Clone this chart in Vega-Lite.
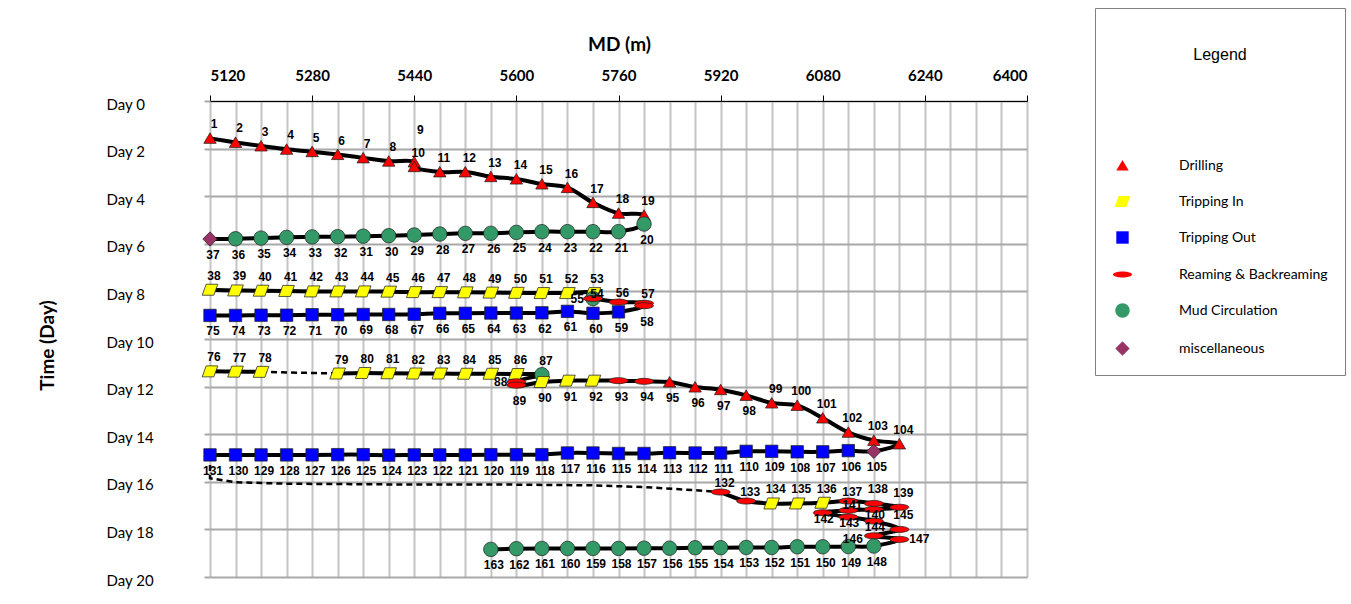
{
  "$schema": "https://vega.github.io/schema/vega-lite/v6.json",
  "width": 817,
  "height": 476,
  "autosize": {"type": "none"},
  "padding": {"left": 210, "top": 101, "right": 324, "bottom": 27},
  "background": "white",
  "config": {"view": {"stroke": null}, "text": {"font": "Liberation Sans", "fontSize": 12, "fontWeight": "bold", "color": "#000000", "baseline": "middle"}},
  "datasets": {
    "ops": [
      {"id":1,"md":5120,"day":1.57,"type":"Drilling","run":1},
      {"id":2,"md":5160,"day":1.74,"type":"Drilling","run":1},
      {"id":3,"md":5200,"day":1.89,"type":"Drilling","run":1},
      {"id":4,"md":5240,"day":2.03,"type":"Drilling","run":1},
      {"id":5,"md":5280,"day":2.13,"type":"Drilling","run":1},
      {"id":6,"md":5320,"day":2.25,"type":"Drilling","run":1},
      {"id":7,"md":5360,"day":2.39,"type":"Drilling","run":1},
      {"id":8,"md":5400,"day":2.53,"type":"Drilling","run":1},
      {"id":9,"md":5440,"day":2.56,"type":"Drilling","run":1},
      {"id":10,"md":5440,"day":2.76,"type":"Drilling","run":1},
      {"id":11,"md":5480,"day":2.98,"type":"Drilling","run":1},
      {"id":12,"md":5520,"day":2.98,"type":"Drilling","run":1},
      {"id":13,"md":5560,"day":3.18,"type":"Drilling","run":1},
      {"id":14,"md":5600,"day":3.28,"type":"Drilling","run":1},
      {"id":15,"md":5640,"day":3.49,"type":"Drilling","run":1},
      {"id":16,"md":5680,"day":3.64,"type":"Drilling","run":1},
      {"id":17,"md":5720,"day":4.27,"type":"Drilling","run":1},
      {"id":18,"md":5760,"day":4.72,"type":"Drilling","run":1},
      {"id":19,"md":5800,"day":4.80,"type":"Drilling","run":1},
      {"id":20,"md":5800,"day":5.17,"type":"Mud Circulation","run":1},
      {"id":21,"md":5760,"day":5.49,"type":"Mud Circulation","run":1},
      {"id":22,"md":5720,"day":5.49,"type":"Mud Circulation","run":1},
      {"id":23,"md":5680,"day":5.49,"type":"Mud Circulation","run":1},
      {"id":24,"md":5640,"day":5.49,"type":"Mud Circulation","run":1},
      {"id":25,"md":5600,"day":5.52,"type":"Mud Circulation","run":1},
      {"id":26,"md":5560,"day":5.56,"type":"Mud Circulation","run":1},
      {"id":27,"md":5520,"day":5.56,"type":"Mud Circulation","run":1},
      {"id":28,"md":5480,"day":5.59,"type":"Mud Circulation","run":1},
      {"id":29,"md":5440,"day":5.63,"type":"Mud Circulation","run":1},
      {"id":30,"md":5400,"day":5.66,"type":"Mud Circulation","run":1},
      {"id":31,"md":5360,"day":5.68,"type":"Mud Circulation","run":1},
      {"id":32,"md":5320,"day":5.70,"type":"Mud Circulation","run":1},
      {"id":33,"md":5280,"day":5.71,"type":"Mud Circulation","run":1},
      {"id":34,"md":5240,"day":5.73,"type":"Mud Circulation","run":1},
      {"id":35,"md":5200,"day":5.76,"type":"Mud Circulation","run":1},
      {"id":36,"md":5160,"day":5.79,"type":"Mud Circulation","run":1},
      {"id":37,"md":5120,"day":5.80,"type":"miscellaneous","run":1},
      {"id":38,"md":5120,"day":7.93,"type":"Tripping In","run":2},
      {"id":39,"md":5160,"day":7.96,"type":"Tripping In","run":2},
      {"id":40,"md":5200,"day":7.97,"type":"Tripping In","run":2},
      {"id":41,"md":5240,"day":7.98,"type":"Tripping In","run":2},
      {"id":42,"md":5280,"day":8.00,"type":"Tripping In","run":2},
      {"id":43,"md":5320,"day":8.00,"type":"Tripping In","run":2},
      {"id":44,"md":5360,"day":8.00,"type":"Tripping In","run":2},
      {"id":45,"md":5400,"day":8.01,"type":"Tripping In","run":2},
      {"id":46,"md":5440,"day":8.03,"type":"Tripping In","run":2},
      {"id":47,"md":5480,"day":8.03,"type":"Tripping In","run":2},
      {"id":48,"md":5520,"day":8.04,"type":"Tripping In","run":2},
      {"id":49,"md":5560,"day":8.05,"type":"Tripping In","run":2},
      {"id":50,"md":5600,"day":8.06,"type":"Tripping In","run":2},
      {"id":51,"md":5640,"day":8.07,"type":"Tripping In","run":2},
      {"id":52,"md":5680,"day":8.07,"type":"Tripping In","run":2},
      {"id":53,"md":5720,"day":8.07,"type":"Tripping In","run":2},
      {"id":54,"md":5720,"day":8.30,"type":"Mud Circulation","run":2},
      {"id":55,"md":5720,"day":8.30,"type":"Reaming & Backreaming","run":2},
      {"id":56,"md":5760,"day":8.45,"type":"Reaming & Backreaming","run":2},
      {"id":57,"md":5800,"day":8.50,"type":"Reaming & Backreaming","run":2},
      {"id":58,"md":5800,"day":8.60,"type":"Reaming & Backreaming","run":2},
      {"id":59,"md":5760,"day":8.86,"type":"Tripping Out","run":2},
      {"id":60,"md":5720,"day":8.92,"type":"Tripping Out","run":2},
      {"id":61,"md":5680,"day":8.84,"type":"Tripping Out","run":2},
      {"id":62,"md":5640,"day":8.90,"type":"Tripping Out","run":2},
      {"id":63,"md":5600,"day":8.91,"type":"Tripping Out","run":2},
      {"id":64,"md":5560,"day":8.91,"type":"Tripping Out","run":2},
      {"id":65,"md":5520,"day":8.92,"type":"Tripping Out","run":2},
      {"id":66,"md":5480,"day":8.92,"type":"Tripping Out","run":2},
      {"id":67,"md":5440,"day":8.96,"type":"Tripping Out","run":2},
      {"id":68,"md":5400,"day":8.97,"type":"Tripping Out","run":2},
      {"id":69,"md":5360,"day":8.97,"type":"Tripping Out","run":2},
      {"id":70,"md":5320,"day":8.98,"type":"Tripping Out","run":2},
      {"id":71,"md":5280,"day":8.98,"type":"Tripping Out","run":2},
      {"id":72,"md":5240,"day":9.00,"type":"Tripping Out","run":2},
      {"id":73,"md":5200,"day":9.00,"type":"Tripping Out","run":2},
      {"id":74,"md":5160,"day":9.01,"type":"Tripping Out","run":2},
      {"id":75,"md":5120,"day":9.01,"type":"Tripping Out","run":2},
      {"id":76,"md":5120,"day":11.36,"type":"Tripping In","run":3},
      {"id":77,"md":5160,"day":11.37,"type":"Tripping In","run":3},
      {"id":78,"md":5200,"day":11.38,"type":"Tripping In","run":3},
      {"id":79,"md":5320,"day":11.45,"type":"Tripping In","run":4},
      {"id":80,"md":5360,"day":11.43,"type":"Tripping In","run":4},
      {"id":81,"md":5400,"day":11.44,"type":"Tripping In","run":4},
      {"id":82,"md":5440,"day":11.45,"type":"Tripping In","run":4},
      {"id":83,"md":5480,"day":11.45,"type":"Tripping In","run":4},
      {"id":84,"md":5520,"day":11.46,"type":"Tripping In","run":4},
      {"id":85,"md":5560,"day":11.46,"type":"Tripping In","run":4},
      {"id":86,"md":5600,"day":11.47,"type":"Tripping In","run":4},
      {"id":87,"md":5640,"day":11.50,"type":"Mud Circulation","run":4},
      {"id":88,"md":5600,"day":11.80,"type":"Reaming & Backreaming","run":4},
      {"id":89,"md":5600,"day":11.94,"type":"Reaming & Backreaming","run":4},
      {"id":90,"md":5640,"day":11.81,"type":"Tripping In","run":4},
      {"id":91,"md":5680,"day":11.75,"type":"Tripping In","run":4},
      {"id":92,"md":5720,"day":11.75,"type":"Tripping In","run":4},
      {"id":93,"md":5760,"day":11.75,"type":"Reaming & Backreaming","run":4},
      {"id":94,"md":5800,"day":11.78,"type":"Reaming & Backreaming","run":4},
      {"id":95,"md":5840,"day":11.81,"type":"Drilling","run":4},
      {"id":96,"md":5880,"day":12.02,"type":"Drilling","run":4},
      {"id":97,"md":5920,"day":12.13,"type":"Drilling","run":4},
      {"id":98,"md":5960,"day":12.37,"type":"Drilling","run":4},
      {"id":99,"md":6000,"day":12.69,"type":"Drilling","run":4},
      {"id":100,"md":6040,"day":12.79,"type":"Drilling","run":4},
      {"id":101,"md":6080,"day":13.32,"type":"Drilling","run":4},
      {"id":102,"md":6120,"day":13.92,"type":"Drilling","run":4},
      {"id":103,"md":6160,"day":14.26,"type":"Drilling","run":4},
      {"id":104,"md":6200,"day":14.41,"type":"Drilling","run":4},
      {"id":105,"md":6160,"day":14.72,"type":"miscellaneous","run":4},
      {"id":106,"md":6120,"day":14.69,"type":"Tripping Out","run":4},
      {"id":107,"md":6080,"day":14.74,"type":"Tripping Out","run":4},
      {"id":108,"md":6040,"day":14.74,"type":"Tripping Out","run":4},
      {"id":109,"md":6000,"day":14.72,"type":"Tripping Out","run":4},
      {"id":110,"md":5960,"day":14.72,"type":"Tripping Out","run":4},
      {"id":111,"md":5920,"day":14.79,"type":"Tripping Out","run":4},
      {"id":112,"md":5880,"day":14.79,"type":"Tripping Out","run":4},
      {"id":113,"md":5840,"day":14.78,"type":"Tripping Out","run":4},
      {"id":114,"md":5800,"day":14.81,"type":"Tripping Out","run":4},
      {"id":115,"md":5760,"day":14.81,"type":"Tripping Out","run":4},
      {"id":116,"md":5720,"day":14.79,"type":"Tripping Out","run":4},
      {"id":117,"md":5680,"day":14.79,"type":"Tripping Out","run":4},
      {"id":118,"md":5640,"day":14.86,"type":"Tripping Out","run":4},
      {"id":119,"md":5600,"day":14.86,"type":"Tripping Out","run":4},
      {"id":120,"md":5560,"day":14.86,"type":"Tripping Out","run":4},
      {"id":121,"md":5520,"day":14.87,"type":"Tripping Out","run":4},
      {"id":122,"md":5480,"day":14.87,"type":"Tripping Out","run":4},
      {"id":123,"md":5440,"day":14.87,"type":"Tripping Out","run":4},
      {"id":124,"md":5400,"day":14.88,"type":"Tripping Out","run":4},
      {"id":125,"md":5360,"day":14.86,"type":"Tripping Out","run":4},
      {"id":126,"md":5320,"day":14.86,"type":"Tripping Out","run":4},
      {"id":127,"md":5280,"day":14.87,"type":"Tripping Out","run":4},
      {"id":128,"md":5240,"day":14.87,"type":"Tripping Out","run":4},
      {"id":129,"md":5200,"day":14.87,"type":"Tripping Out","run":4},
      {"id":130,"md":5160,"day":14.87,"type":"Tripping Out","run":4},
      {"id":131,"md":5120,"day":14.87,"type":"Tripping Out","run":4},
      {"id":132,"md":5920,"day":16.43,"type":"Reaming & Backreaming","run":5},
      {"id":133,"md":5960,"day":16.81,"type":"Reaming & Backreaming","run":5},
      {"id":134,"md":6000,"day":16.91,"type":"Tripping In","run":5},
      {"id":135,"md":6040,"day":16.91,"type":"Tripping In","run":5},
      {"id":136,"md":6080,"day":16.88,"type":"Tripping In","run":5},
      {"id":137,"md":6120,"day":16.81,"type":"Reaming & Backreaming","run":5},
      {"id":138,"md":6160,"day":16.91,"type":"Reaming & Backreaming","run":5},
      {"id":139,"md":6200,"day":17.07,"type":"Reaming & Backreaming","run":5},
      {"id":140,"md":6160,"day":17.16,"type":"Reaming & Backreaming","run":5},
      {"id":141,"md":6120,"day":17.20,"type":"Reaming & Backreaming","run":5},
      {"id":142,"md":6080,"day":17.30,"type":"Reaming & Backreaming","run":5},
      {"id":143,"md":6120,"day":17.48,"type":"Reaming & Backreaming","run":5},
      {"id":144,"md":6160,"day":17.65,"type":"Reaming & Backreaming","run":5},
      {"id":145,"md":6200,"day":18.00,"type":"Reaming & Backreaming","run":5},
      {"id":146,"md":6160,"day":18.27,"type":"Reaming & Backreaming","run":5},
      {"id":147,"md":6200,"day":18.42,"type":"Reaming & Backreaming","run":5},
      {"id":148,"md":6160,"day":18.70,"type":"Mud Circulation","run":5},
      {"id":149,"md":6120,"day":18.72,"type":"Mud Circulation","run":5},
      {"id":150,"md":6080,"day":18.73,"type":"Mud Circulation","run":5},
      {"id":151,"md":6040,"day":18.73,"type":"Mud Circulation","run":5},
      {"id":152,"md":6000,"day":18.76,"type":"Mud Circulation","run":5},
      {"id":153,"md":5960,"day":18.76,"type":"Mud Circulation","run":5},
      {"id":154,"md":5920,"day":18.77,"type":"Mud Circulation","run":5},
      {"id":155,"md":5880,"day":18.77,"type":"Mud Circulation","run":5},
      {"id":156,"md":5840,"day":18.79,"type":"Mud Circulation","run":5},
      {"id":157,"md":5800,"day":18.79,"type":"Mud Circulation","run":5},
      {"id":158,"md":5760,"day":18.80,"type":"Mud Circulation","run":5},
      {"id":159,"md":5720,"day":18.80,"type":"Mud Circulation","run":5},
      {"id":160,"md":5680,"day":18.80,"type":"Mud Circulation","run":5},
      {"id":161,"md":5640,"day":18.80,"type":"Mud Circulation","run":5},
      {"id":162,"md":5600,"day":18.81,"type":"Mud Circulation","run":5},
      {"id":163,"md":5560,"day":18.84,"type":"Mud Circulation","run":5}
    ],
    "connectors": [
      {"seg":"a","step":1,"md":5200,"day":11.38},
      {"seg":"a","step":2,"md":5320,"day":11.45},
      {"seg":"b","step":1,"md":5120,"day":14.87},
      {"seg":"b","step":2,"md":5120,"day":15.85},
      {"seg":"b","step":3,"md":5160,"day":16.02},
      {"seg":"b","step":4,"md":5240,"day":16.08},
      {"seg":"b","step":5,"md":5400,"day":16.11},
      {"seg":"b","step":6,"md":5560,"day":16.11},
      {"seg":"b","step":7,"md":5720,"day":16.15},
      {"seg":"b","step":8,"md":5800,"day":16.22},
      {"seg":"b","step":9,"md":5860,"day":16.32},
      {"seg":"b","step":10,"md":5920,"day":16.43}
    ]
  },
  "encoding": {
    "x": {
      "field": "md", "type": "quantitative",
      "scale": {"domain": [5120, 6400], "nice": false, "zero": false},
      "axis": {
        "orient": "top",
        "values": [5120,5160,5200,5240,5280,5320,5360,5400,5440,5480,5520,5560,5600,5640,5680,5720,5760,5800,5840,5880,5920,5960,6000,6040,6080,6120,6160,6200,6240,6280,6320,6360,6400],
        "format": "d",
        "labelExpr": "datum.value % 160 === 0 ? datum.label : ''",
        "grid": true, "gridColor": "#c4c4c4", "gridWidth": 2,
        "domain": true, "domainColor": "#000000", "domainWidth": 1,
        "ticks": true, "tickSize": 6, "tickWidth": 1,
        "tickColor": {"condition": {"test": "datum.value % 160 === 0", "value": "#000000"}, "value": "transparent"},
        "labelFont": "Lato", "labelFontSize": 15, "labelFontWeight": "bold", "labelColor": "#000000",
        "labelPadding": 12, "labelOverlap": false,
        "title": "MD (m)", "titleFont": "Lato", "titleFontSize": 19, "titleFontWeight": "bold", "titleColor": "#000000",
        "titleX": 409, "titleY": -57, "titleAlign": "center", "titleBaseline": "middle"
      }
    },
    "y": {
      "field": "day", "type": "quantitative",
      "scale": {"domain": [0, 20], "nice": false, "zero": false, "reverse": true},
      "axis": {
        "orient": "left",
        "values": [0,2,4,6,8,10,12,14,16,18,20],
        "labelExpr": "'Day ' + datum.value",
        "grid": true, "gridColor": "#a8a8a8", "gridWidth": 2,
        "domain": false,
        "ticks": true, "tickSize": 6, "tickWidth": 2, "tickColor": "#a8a8a8",
        "labelFont": "Lato", "labelFontSize": 15, "labelColor": "#000000",
        "labelAlign": "left", "labelBaseline": "middle", "labelPadding": 98, "labelOffset": 3,
        "title": "Time (Day)", "titleFont": "Lato", "titleFontSize": 19, "titleFontWeight": "bold", "titleColor": "#000000",
        "titleX": -163, "titleY": 244, "titleAngle": -90, "titleAlign": "center", "titleBaseline": "middle"
      }
    }
  },
  "layer": [
    {
      "data": {"name": "ops"},
      "mark": {"type": "line", "color": "#000000", "strokeWidth": 4, "interpolate": "catmull-rom", "clip": false},
      "encoding": {
        "detail": {"field": "run", "type": "nominal"},
        "order": {"field": "id", "type": "quantitative"}
      }
    },
    {
      "data": {"name": "connectors"},
      "mark": {"type": "line", "color": "#000000", "strokeWidth": 2.5, "strokeDash": [6, 4], "clip": false},
      "encoding": {
        "detail": {"field": "seg", "type": "nominal"},
        "order": {"field": "step", "type": "quantitative"}
      }
    },
    {
      "data": {"name": "ops"},
      "mark": {"type": "point", "filled": true, "opacity": 1, "size": 400, "stroke": "#222222", "strokeWidth": 0.75, "clip": false},
      "encoding": {
        "fill": {
          "field": "type", "type": "nominal",
          "scale": {
            "domain": ["Drilling", "Tripping In", "Tripping Out", "Reaming & Backreaming", "Mud Circulation", "miscellaneous"],
            "range": ["#ff0000", "#ffff00", "#0000ff", "#ff0000", "#339966", "#993366"]
          },
          "legend": {
            "title": ["", "Legend"], "orient": "none", "legendX": 885, "legendY": -93,
            "titleFont": "Liberation Sans", "titleFontSize": 16, "titleFontWeight": "normal", "titleColor": "#000000",
            "titleAnchor": "middle", "titleLineHeight": 22, "titlePadding": 92,
            "padding": 17, "strokeColor": "#808080",
            "labelFont": "Lato", "labelFontSize": 14, "labelColor": "#000000", "labelOffset": 46, "labelLimit": 300,
            "rowPadding": 18, "symbolSize": 400, "symbolStrokeColor": "#222222", "symbolStrokeWidth": 0.75
          }
        },
        "shape": {
          "field": "type", "type": "nominal",
          "scale": {
            "domain": ["Drilling", "Tripping In", "Tripping Out", "Reaming & Backreaming", "Mud Circulation", "miscellaneous"],
            "range": [
              "M0,-0.55L0.62,0.5L-0.62,0.5Z",
              "M-0.78,0.55L-0.38,-0.55L0.78,-0.55L0.38,0.55Z",
              "M-0.62,-0.62L0.62,-0.62L0.62,0.62L-0.62,0.62Z",
              "M-0.95,0A0.95,0.3,0,1,1,0.95,0A0.95,0.3,0,1,1,-0.95,0Z",
              "M-0.72,0A0.72,0.72,0,1,1,0.72,0A0.72,0.72,0,1,1,-0.72,0Z",
              "M0,-0.72L0.72,0L0,0.72L-0.72,0Z"
            ]
          },
          "legend": {
            "title": ["", "Legend"], "orient": "none", "legendX": 885, "legendY": -93,
            "titleFont": "Liberation Sans", "titleFontSize": 16, "titleFontWeight": "normal", "titleColor": "#000000",
            "titleAnchor": "middle", "titleLineHeight": 22, "titlePadding": 92,
            "padding": 17, "strokeColor": "#808080",
            "labelFont": "Lato", "labelFontSize": 14, "labelColor": "#000000", "labelOffset": 46, "labelLimit": 300,
            "rowPadding": 18, "symbolSize": 400, "symbolStrokeColor": "#222222", "symbolStrokeWidth": 0.75
          }
        }
      }
    },
    {
      "data": {"name": "ops"},
      "transform": [{"filter": "(datum.id<=8) || (datum.id>=10 && datum.id<=19) || (datum.id>=38 && datum.id<=53) || (datum.id>=76 && datum.id<=87) || (datum.id>=99 && datum.id<=104) || (datum.id>=134 && datum.id<=136) || datum.id==138 || datum.id==139 || datum.id==145"}],
      "mark": {"type": "text", "dy": -14, "dx": 4, "clip": false},
      "encoding": {"text": {"field": "id", "type": "nominal"}}
    },
    {
      "data": {"name": "ops"},
      "transform": [{"filter": "datum.id==9"}],
      "mark": {"type": "text", "dy": -32, "dx": 6, "clip": false},
      "encoding": {"text": {"field": "id", "type": "nominal"}}
    },
    {
      "data": {"name": "ops"},
      "transform": [{"filter": "datum.id==56 || datum.id==57 || datum.id==132 || datum.id==133 || datum.id==137"}],
      "mark": {"type": "text", "dy": -9, "dx": 4, "clip": false},
      "encoding": {"text": {"field": "id", "type": "nominal"}}
    },
    {
      "data": {"name": "ops"},
      "transform": [{"filter": "datum.id==54 || datum.id==141"}],
      "mark": {"type": "text", "dy": -5, "dx": 4, "clip": false},
      "encoding": {"text": {"field": "id", "type": "nominal"}}
    },
    {
      "data": {"name": "ops"},
      "transform": [{"filter": "(datum.id>=20 && datum.id<=37) || (datum.id>=58 && datum.id<=75) || (datum.id>=89 && datum.id<=98) || (datum.id>=105 && datum.id<=131) || datum.id>=148"}],
      "mark": {"type": "text", "dy": 16, "dx": 3, "clip": false},
      "encoding": {"text": {"field": "id", "type": "nominal"}}
    },
    {
      "data": {"name": "ops"},
      "transform": [{"filter": "datum.id==140 || (datum.id>=142 && datum.id<=144)"}],
      "mark": {"type": "text", "dy": 6, "dx": 1, "clip": false},
      "encoding": {"text": {"field": "id", "type": "nominal"}}
    },
    {
      "data": {"name": "ops"},
      "transform": [{"filter": "datum.id==55 || datum.id==88"}],
      "mark": {"type": "text", "dx": -9, "align": "right", "clip": false},
      "encoding": {"text": {"field": "id", "type": "nominal"}}
    },
    {
      "data": {"name": "ops"},
      "transform": [{"filter": "datum.id==146"}],
      "mark": {"type": "text", "dx": -11, "dy": 3, "align": "right", "clip": false},
      "encoding": {"text": {"field": "id", "type": "nominal"}}
    },
    {
      "data": {"name": "ops"},
      "transform": [{"filter": "datum.id==147"}],
      "mark": {"type": "text", "dx": 10, "align": "left", "clip": false},
      "encoding": {"text": {"field": "id", "type": "nominal"}}
    }
  ]
}
